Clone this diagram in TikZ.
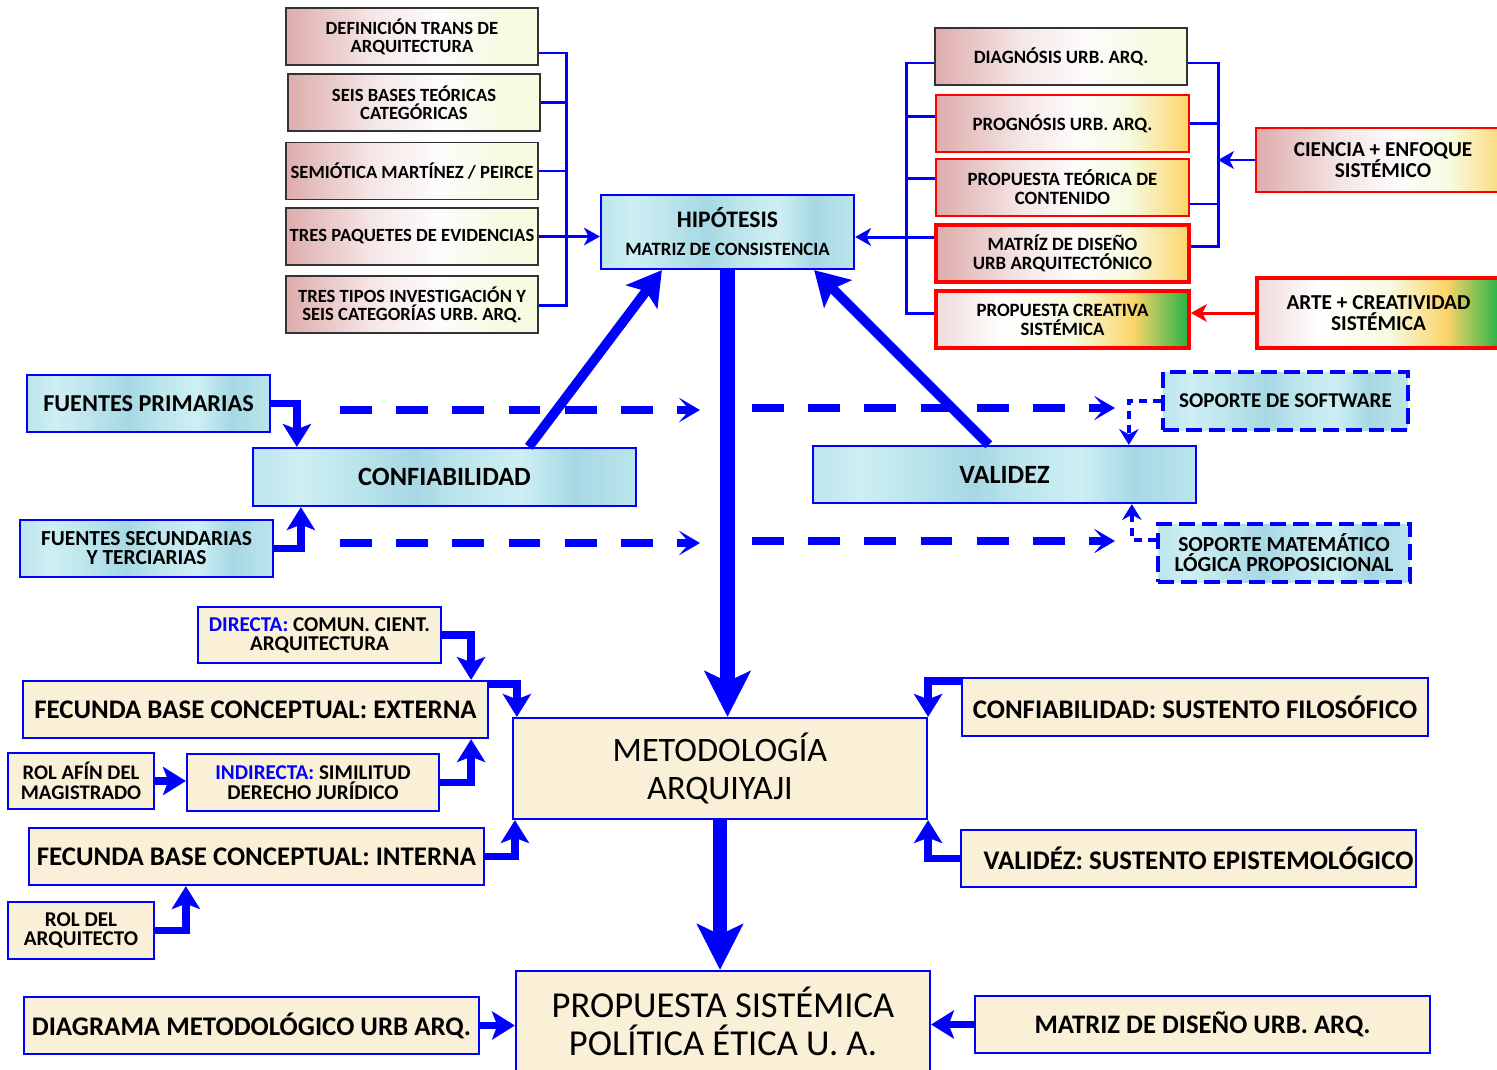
\documentclass[tikz,border=0pt]{standalone}
\usepackage{fontspec}
\setmainfont{Carlito}
\usepackage{tikz}
\usetikzlibrary{arrows.meta}

\definecolor{azul}{RGB}{0,0,255}
\definecolor{rojo}{RGB}{255,0,0}
\definecolor{rosa}{RGB}{222,172,172}
\definecolor{crema}{RGB}{246,251,226}
\definecolor{amarillo}{RGB}{252,212,105}
\definecolor{verde}{RGB}{35,178,72}
\definecolor{papel}{RGB}{250,240,215}
\definecolor{agua}{RGB}{188,229,236}
\definecolor{aguaclara}{RGB}{206,239,244}
\definecolor{aguaosc}{RGB}{166,216,228}

\pgfdeclarehorizontalshading{rosacrema}{100bp}{color(0bp)=(rosa); color(25bp)=(rosa); color(42bp)=(rosa!30!white); color(55bp)=(white!96!rosa); color(68bp)=(crema); color(100bp)=(crema)}
\pgfdeclarehorizontalshading{rosaambar}{100bp}{color(0bp)=(rosa); color(25bp)=(rosa); color(42bp)=(rosa!30!white); color(53bp)=(white!96!rosa); color(63bp)=(crema); color(75bp)=(amarillo); color(100bp)=(amarillo)}
\pgfdeclarehorizontalshading{rosaverde}{100bp}{color(0bp)=(rosa!45!white); color(25bp)=(rosa!45!white); color(38bp)=(white); color(52bp)=(crema); color(64bp)=(amarillo); color(75bp)=(verde); color(100bp)=(verde)}
\pgfdeclarehorizontalshading{texagua}{100bp}{color(0bp)=(agua); color(25bp)=(agua); color(31bp)=(aguaclara); color(38bp)=(agua); color(46bp)=(aguaosc); color(52bp)=(agua); color(60bp)=(aguaclara); color(67bp)=(aguaosc); color(75bp)=(agua); color(100bp)=(agua)}

\tikzstyle{teoria}=[rectangle, draw=black!80, line width=0.8pt, shade, shading=rosacrema,
                    minimum width=5.04cm, minimum height=1.14cm, inner sep=1pt, align=center,
                    font=\fontsize{10.6}{10.4}\selectfont\bfseries]
\tikzstyle{etapa}=[rectangle, draw=rojo, line width=1.6pt, shade, shading=rosaambar,
                   minimum width=5.06cm, minimum height=1.14cm, inner sep=1pt, align=center,
                   font=\fontsize{10.7}{10.8}\selectfont\bfseries]
\tikzstyle{burbuja}=[rectangle, draw=azul, line width=1.3pt, shade, shading=texagua,
                     inner sep=1pt, align=center]
\tikzstyle{soporte}=[burbuja, dash pattern=on 9pt off 4pt, line width=1.9pt]
\tikzstyle{pergamino}=[rectangle, draw=azul, line width=1.3pt, fill=papel,
                       inner sep=1pt, align=center]

\tikzstyle{llave}=[draw=azul, line width=1.7pt]
\tikzstyle{flecha}=[llave, -{Stealth[length=9pt,width=10pt,inset=2.5pt]}]
\tikzstyle{codo}=[draw=azul, line width=4.5pt, -{Stealth[length=13pt,width=16pt,inset=3pt]}]
\tikzstyle{diagonal}=[draw=azul, line width=5.5pt, -{Stealth[length=19pt,width=22pt,inset=4pt]}]
\tikzstyle{eje}=[draw=azul, line width=8pt, -{Stealth[length=26pt,width=26pt,inset=6pt]}]
\tikzstyle{punteado}=[draw=azul, line width=4.5pt, dash pattern=on 18pt off 14pt,
                      -{Stealth[length=12pt,width=14pt,inset=6pt]}]
\tikzstyle{enlace}=[draw=azul, line width=2.5pt, dash pattern=on 5pt off 3pt,
                    -{Stealth[length=9pt,width=11pt,inset=3pt]}]

\begin{document}
\begin{tikzpicture}[x=0.02cm, y=-0.02cm]
  \useasboundingbox (0,0) rectangle (1497,1069);

  % bases teoricas
  \node[teoria] (def) at (412,36.5) {DEFINICIÓN TRANS DE\\ARQUITECTURA};
  \node[teoria] (bases) at (414,102.5) {SEIS BASES TEÓRICAS\\CATEGÓRICAS};
  \node[teoria] (semio) at (412,171) {SEMIÓTICA MARTÍNEZ / PEIRCE};
  \node[teoria] (paq) at (412,236.5) {TRES PAQUETES DE EVIDENCIAS};
  \node[teoria] (tipos) at (412,304.5) {TRES TIPOS INVESTIGACIÓN Y\\SEIS CATEGORÍAS URB. ARQ.};

  \node[burbuja, minimum width=5.06cm, minimum height=1.48cm,
        font=\fontsize{10.7}{16}\selectfont\bfseries] (hipo) at (727.5,232)
        {{\fontsize{13.5}{16}\selectfont HIPÓTESIS}\\MATRIZ DE CONSISTENCIA};

  % etapas
  \node[teoria, font=\fontsize{10.7}{10.8}\selectfont\bfseries] (diag) at (1061,56.5) {DIAGNÓSIS URB. ARQ.};
  \node[etapa] (prog) at (1062.5,123.5) {PROGNÓSIS URB. ARQ.};
  \node[etapa] (teorica) at (1062.5,187.5) {PROPUESTA TEÓRICA DE\\CONTENIDO};
  \node[etapa, line width=2.2pt] (matriz) at (1062.5,253.5) {MATRÍZ DE DISEÑO\\URB ARQUITECTÓNICO};
  \node[etapa, line width=2.2pt, shading=rosaverde] (creativa) at (1062.5,319.5) {PROPUESTA CREATIVA\\SISTÉMICA};

  \node[etapa, minimum width=5.08cm, minimum height=1.28cm,
        font=\fontsize{12.1}{12}\selectfont\bfseries] (ciencia) at (1383,160) {CIENCIA + ENFOQUE\\SISTÉMICO};
  \node[etapa, line width=2.2pt, shading=rosaverde, minimum width=4.86cm, minimum height=1.4cm,
        font=\fontsize{12.1}{12}\selectfont\bfseries] (arte) at (1378.5,313) {ARTE + CREATIVIDAD\\SISTÉMICA};

  % llaves
  \coordinate (li) at (566,53);
  \coordinate (lf) at (566,305);
  \draw[llave] (def.east |- li) -- (li) -- (lf) -- (tipos.east |- lf);
  \draw[llave] (bases.east) -- (bases.east -| li);
  \draw[llave] (semio.east) -- (semio.east -| li);
  \draw[flecha] (paq.east) -- (paq.east -| hipo.west);

  \coordinate (ri) at (906,63);
  \coordinate (rf) at (906,313);
  \coordinate (rh) at (906,237);
  \draw[llave] (diag.west |- ri) -- (ri) -- (rf) -- (creativa.west |- rf);
  \draw[llave] ([yshift=0.15cm]prog.west) -- ([yshift=0.15cm]prog.west -| ri);
  \draw[llave] ([yshift=0.19cm]teorica.west) -- ([yshift=0.19cm]teorica.west -| ri);
  \draw[llave] (matriz.west |- rh) -- (rh);
  \draw[flecha] (rh) -- (rh -| hipo.east);

  \coordinate (si) at (1218,63);
  \coordinate (sf) at (1218,246);
  \draw[llave] (diag.east |- si) -- (si) -- (sf) -- (matriz.east |- sf);
  \draw[llave] (prog.east) -- (prog.east -| si);
  \draw[llave] ([yshift=-0.33cm]teorica.east) -- ([yshift=-0.33cm]teorica.east -| si);
  \draw[flecha] (ciencia.west) -- (ciencia.west -| si);
  \draw[flecha, draw=rojo] (arte.west) -- (arte.west -| creativa.east);

  % confiabilidad y validez
  \node[burbuja, minimum width=4.86cm, minimum height=1.14cm,
        font=\fontsize{13.8}{14}\selectfont\bfseries] (fprim) at (148.5,403.5) {FUENTES PRIMARIAS};
  \node[burbuja, minimum width=7.66cm, minimum height=1.16cm,
        font=\fontsize{15}{16}\selectfont\bfseries] (confi) at (444.5,477) {CONFIABILIDAD};
  \node[burbuja, minimum width=5.06cm, minimum height=1.14cm,
        font=\fontsize{12.2}{10.8}\selectfont\bfseries] (fsec) at (146.5,548.5) {FUENTES SECUNDARIAS\\Y TERCIARIAS};
  \node[burbuja, minimum width=7.66cm, minimum height=1.14cm,
        font=\fontsize{15}{16}\selectfont\bfseries] (valid) at (1004.5,474.5) {VALIDEZ};
  \node[soporte, minimum width=4.9cm, minimum height=1.16cm,
        font=\fontsize{12}{13}\selectfont\bfseries] (soft) at (1285.5,401) {SOPORTE DE SOFTWARE};
  \node[soporte, minimum width=5.04cm, minimum height=1.16cm,
        font=\fontsize{12.2}{9.8}\selectfont\bfseries] (mate) at (1284,553) {SOPORTE MATEMÁTICO\\LÓGICA PROPOSICIONAL};

  \draw[codo] (fprim.east) -| ([xshift=0.9cm]confi.north west);
  \draw[codo] (fsec.east) -| ([xshift=0.98cm]confi.south west);
  \draw[diagonal] ([xshift=5.54cm]confi.north west) -- ([xshift=1.24cm]hipo.south west);
  \draw[diagonal] ([xshift=3.54cm]valid.north west) -- ([xshift=-0.82cm]hipo.south east);

  \coordinate (p1) at (340,410);
  \coordinate (p2) at (700,410);
  \coordinate (p3) at (752,408);
  \coordinate (p4) at (1115,408);
  \coordinate (q1) at (340,543);
  \coordinate (q2) at (700,543);
  \coordinate (q3) at (752,541);
  \coordinate (q4) at (1115,541);
  \draw[punteado] (p1) -- (p2);
  \draw[punteado] (p3) -- (p4);
  \draw[punteado] (q1) -- (q2);
  \draw[punteado] (q3) -- (q4);
  \draw[enlace] (soft.west) -| ([xshift=6.34cm]valid.north west);
  \draw[enlace] ([yshift=0.26cm]mate.west) -| ([xshift=6.4cm]valid.south west);

  % metodologia
  \node[pergamino, minimum width=4.86cm, minimum height=1.12cm,
        font=\fontsize{12}{10.8}\selectfont\bfseries] (directa) at (319.5,635)
        {{\color{azul}DIRECTA:} COMUN. CIENT.\\ARQUITECTURA};
  \node[pergamino, minimum width=9.3cm, minimum height=1.14cm,
        font=\fontsize{15.3}{16}\selectfont\bfseries] (externa) at (255.5,709.5) {FECUNDA BASE CONCEPTUAL: EXTERNA};
  \node[pergamino, minimum width=2.92cm, minimum height=1.12cm,
        font=\fontsize{11.8}{11}\selectfont\bfseries] (rolafin) at (81,781) {ROL AFÍN DEL\\MAGISTRADO};
  \node[pergamino, minimum width=5.04cm, minimum height=1.14cm,
        font=\fontsize{12}{11}\selectfont\bfseries] (indirecta) at (313,782.5)
        {{\color{azul}INDIRECTA:} SIMILITUD\\DERECHO JURÍDICO};
  \node[pergamino, minimum width=9.1cm, minimum height=1.14cm,
        font=\fontsize{15.3}{16}\selectfont\bfseries] (interna) at (256.5,856.5) {FECUNDA BASE CONCEPTUAL: INTERNA};
  \node[pergamino, minimum width=2.92cm, minimum height=1.14cm,
        font=\fontsize{12}{11}\selectfont\bfseries] (rolarq) at (81,930.5) {ROL DEL\\ARQUITECTO};

  \node[pergamino, minimum width=8.28cm, minimum height=2.02cm,
        font=\fontsize{19.5}{21.5}\selectfont] (metod) at (720,768.5) {METODOLOGÍA\\ARQUIYAJI};

  \node[pergamino, minimum width=9.32cm, minimum height=1.16cm,
        font=\fontsize{15.3}{16}\selectfont\bfseries] (csf) at (1195,707) {CONFIABILIDAD: SUSTENTO FILOSÓFICO};
  \node[pergamino, minimum width=9.1cm, minimum height=1.14cm,
        font=\fontsize{15.3}{16}\selectfont\bfseries] (vse) at (1188.5,858.5) {\hspace*{0.4cm}VALIDÉZ: SUSTENTO EPISTEMOLÓGICO};

  \node[pergamino, minimum width=8.28cm, minimum height=2.0cm,
        font=\fontsize{20.8}{21.5}\selectfont] (propuesta) at (723,1021) {PROPUESTA SISTÉMICA\\POLÍTICA ÉTICA U. A.};
  \node[pergamino, minimum width=9.1cm, minimum height=1.14cm,
        font=\fontsize{15.3}{16}\selectfont\bfseries] (diagmet) at (251.5,1025.5) {DIAGRAMA METODOLÓGICO URB ARQ.};
  \node[pergamino, minimum width=9.1cm, minimum height=1.14cm,
        font=\fontsize{15.2}{16}\selectfont\bfseries] (matdis) at (1202.5,1024.5) {MATRIZ DE DISEÑO URB. ARQ.};

  \draw[eje] (hipo.south) -- (hipo.south |- metod.north);

  \draw[codo] (directa.east) -| ([xshift=-0.36cm]externa.north east);
  \draw[codo] ([yshift=0.51cm]externa.east) -| ([xshift=0.1cm]metod.north west);
  \draw[codo] (rolafin.east) -- (rolafin.east -| indirecta.west);
  \draw[codo] (indirecta.east) -| ([xshift=-0.36cm]externa.south east);
  \draw[codo] (interna.east) -| ([xshift=0.06cm]metod.south west);
  \draw[codo] (rolarq.east) -| ([xshift=3.16cm]interna.south west);
  \draw[codo] ([yshift=0.52cm]csf.west) -| (metod.north east);
  \draw[codo] (vse.west) -| (metod.south east);

  \draw[eje] (metod.south) -- (metod.south |- propuesta.north);
  \draw[codo] (diagmet.east) -- (diagmet.east -| propuesta.west);
  \draw[codo] (matdis.west) -- (matdis.west -| propuesta.east);
\end{tikzpicture}
\end{document}
